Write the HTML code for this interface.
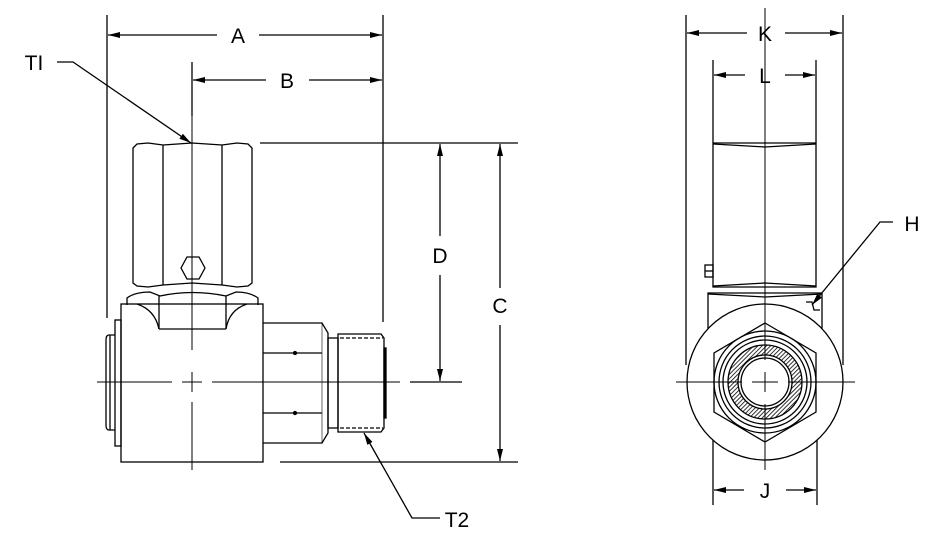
<!DOCTYPE html>
<html><head><meta charset="utf-8"><style>
html,body{margin:0;padding:0;background:#fff;}
svg{display:block;}
text{font-family:"Liberation Sans",sans-serif;font-size:21px;fill:#000;text-anchor:middle;}
</style></head><body>
<svg width="945" height="540" viewBox="0 0 945 540" xmlns="http://www.w3.org/2000/svg">
<defs>
<marker id="ar" viewBox="0 0 12 6" refX="12" refY="3" markerWidth="12" markerHeight="6" markerUnits="userSpaceOnUse" orient="auto-start-reverse"><path d="M0,0 L12,3 L0,6 z" fill="#000"/></marker>
<pattern id="hat" width="3" height="3" patternUnits="userSpaceOnUse" patternTransform="rotate(45)"><rect width="3" height="3" fill="#fff"/><line x1="0" y1="0" x2="0" y2="3" stroke="#000" stroke-width="1.6"/></pattern>
</defs>
<g fill="none" stroke="#000" stroke-width="1.3">
<!-- LEFT VIEW -->
<line x1="107" y1="15" x2="107" y2="318"/>
<line x1="383" y1="15" x2="383" y2="322"/>
<line x1="192" y1="62" x2="192" y2="116"/>
<line x1="260" y1="143" x2="518" y2="143"/>
<line x1="410" y1="382" x2="462" y2="382"/>
<line x1="280" y1="462" x2="518" y2="462"/>
<line x1="108" y1="35" x2="217" y2="35" marker-start="url(#ar)"/>
<line x1="259" y1="35" x2="382" y2="35" marker-end="url(#ar)"/>
<line x1="193" y1="80" x2="266" y2="80" marker-start="url(#ar)"/>
<line x1="309" y1="80" x2="382" y2="80" marker-end="url(#ar)"/>
<line x1="440" y1="144" x2="440" y2="236" marker-start="url(#ar)"/>
<line x1="440" y1="275" x2="440" y2="381" marker-end="url(#ar)"/>
<line x1="500" y1="144" x2="500" y2="288" marker-start="url(#ar)"/>
<line x1="500" y1="325" x2="500" y2="461" marker-end="url(#ar)"/>
<polyline points="57,62 73,62 191,143" marker-end="url(#ar)"/>
<polyline points="440,518 412,518 364,433" marker-end="url(#ar)"/>
<!-- top nut -->
<path d="M133,148 L137,144 L148,143 L163,145 L192,143 L222,145 L237,143 L248,144 L252,148 L252,283 L248,286 L237,287 L222,285 L192,283 L163,285 L148,287 L137,286 L133,283 Z"/>
<line x1="163" y1="145" x2="163" y2="285"/>
<line x1="222" y1="145" x2="222" y2="285"/>
<polygon points="181,268 187,257 199,257 205,268 199,279 187,279"/>
<!-- lower hex -->
<path d="M127,305 L127,298 Q135,292 150,292 L160,296 Q192,289 226,296 L236,292 Q250,292 258,298 L258,305"/>
<line x1="159" y1="296" x2="159" y2="329"/>
<line x1="226" y1="296" x2="226" y2="329"/>
<line x1="159" y1="329" x2="226" y2="329"/>
<rect x="121" y="304" width="142" height="158"/>
<path d="M137,304 Q155,310 159,329"/>
<path d="M247,304 Q229,310 226,329"/>
<rect x="115" y="320" width="6" height="126"/>
<path d="M115,335 L109,335 Q106,335 106,340 L106,425 Q106,430 109,430 L115,430"/>
<line x1="110" y1="335" x2="110" y2="430"/>
<path d="M263,323 L322,323 L328,333 L328,433 L322,443 L263,443"/>
<line x1="263" y1="353" x2="322" y2="353"/>
<line x1="263" y1="413" x2="322" y2="413"/>
<path d="M322,323 L322,443" stroke-width="0.6"/>
<circle cx="295" cy="353" r="1.5" fill="#000"/>
<circle cx="295" cy="413" r="1.5" fill="#000"/>
<rect x="328" y="338" width="10" height="90"/>
<path d="M338,334 L381,334 L384,338 L384,428 L381,432 L338,432 Z"/>
<line x1="340" y1="338" x2="383" y2="338" stroke-dasharray="4,2"/>
<line x1="340" y1="428" x2="383" y2="428" stroke-dasharray="4,2"/>
<rect x="384" y="348" width="2" height="70" fill="#000"/>
<path d="M97,382 L172,382 M182,382 L202,382 M212,382 L400,382" stroke-width="1"/>
<path d="M192,116 L192,350 M192,372 L192,392 M192,402 L192,470" stroke-width="1"/>
<!-- RIGHT VIEW -->
<line x1="686" y1="15" x2="686" y2="365"/>
<line x1="843" y1="15" x2="843" y2="365"/>
<line x1="713" y1="60" x2="713" y2="143"/>
<line x1="816" y1="60" x2="816" y2="143"/>
<line x1="713" y1="430" x2="713" y2="505"/>
<line x1="817" y1="430" x2="817" y2="505"/>
<line x1="687" y1="33" x2="747" y2="33" marker-start="url(#ar)"/>
<line x1="785" y1="33" x2="842" y2="33" marker-end="url(#ar)"/>
<line x1="714" y1="75" x2="745" y2="75" marker-start="url(#ar)"/>
<line x1="785" y1="75" x2="815" y2="75" marker-end="url(#ar)"/>
<line x1="714" y1="490" x2="744" y2="490" marker-start="url(#ar)"/>
<line x1="786" y1="490" x2="816" y2="490" marker-end="url(#ar)"/>
<polyline points="893,222 880,222 812,305" marker-end="url(#ar)"/>
<path d="M713,143 L816,143 L816,287 L713,287 Z"/>
<path d="M713,144 L765,147 L816,144"/>
<path d="M713,286 L765,283 L816,286"/>
<rect x="705" y="265" width="8" height="12"/>
<line x1="705" y1="271" x2="713" y2="271"/>
<path d="M708,330 L708,293 L822,293 L822,330"/>
<path d="M708,294 L765,297 L822,294"/>
<path d="M806,302 L812,302 L814,310 L820,310"/>
<circle cx="765" cy="382" r="78" fill="#fff"/>
<polygon points="765,323 816,353 816,412 765,442 714,412 714,353" fill="#fff"/>
<circle cx="765" cy="382" r="51"/>
<circle cx="765" cy="382" r="46"/>
<circle cx="765" cy="382" r="42"/>
<circle cx="765" cy="382" r="32" fill="none" stroke="url(#hat)" stroke-width="10"/>
<circle cx="765" cy="382" r="37"/>
<circle cx="765" cy="382" r="27"/>
<circle cx="765" cy="382" r="24"/>
<path d="M676,382 L742,382 M752,382 L778,382 M788,382 L855,382" stroke-width="1"/>
<path d="M765,8 L765,360 M765,372 L765,392 M765,404 L765,470" stroke-width="1"/>
</g>
<text x="238" y="43">A</text>
<text x="287" y="88">B</text>
<text x="440" y="263">D</text>
<text x="500" y="313">C</text>
<text x="34" y="70">TI</text>
<text x="457" y="527">T2</text>
<text x="765" y="41">K</text>
<text x="765" y="83">L</text>
<text x="765" y="498">J</text>
<text x="912" y="231">H</text>
</svg>
</body></html>
